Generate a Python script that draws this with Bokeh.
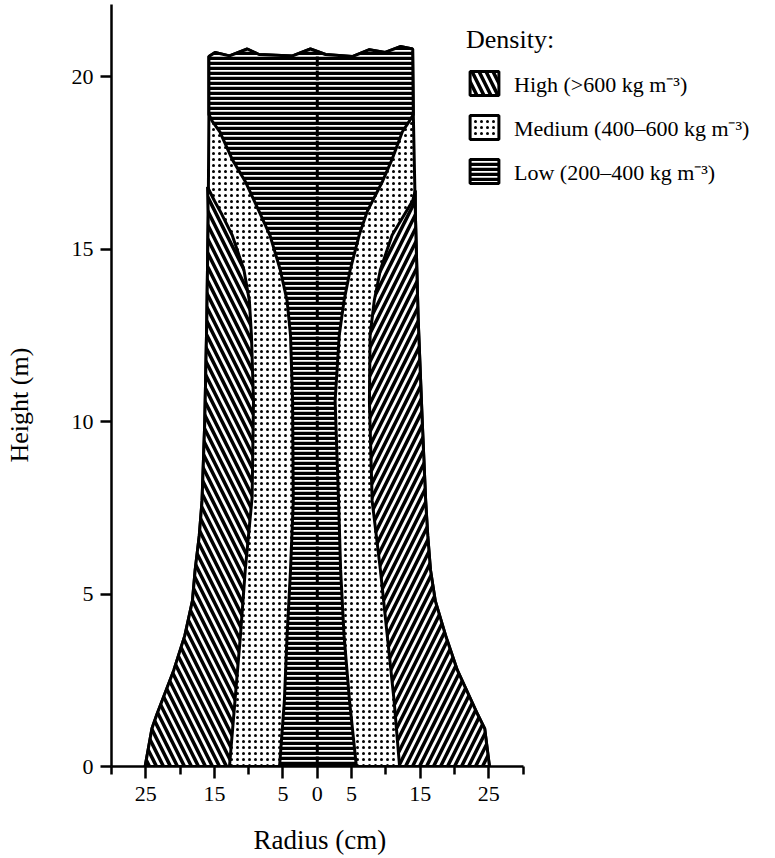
from bokeh.plotting import figure
from bokeh.models import Range1d, FixedTicker, Legend, LegendItem, Title
from bokeh.embed import file_html
from bokeh.resources import INLINE

# ---- data (height in m, radius in cm) ----
# outer stem surface, left and right sides
outer_h = [0, 1.1, 1.5, 2.8, 3.8, 4.8, 5.7, 6.7, 7.7, 10, 13, 16, 18.9]
outer_left = [-25.1, -24.1, -23.4, -20.9, -19.3, -18.2, -17.8, -17.2, -16.8, -16.4, -16.1, -15.9, -15.8]
outer_right = [25.1, 24.4, 23.4, 20.4, 18.7, 17.2, 16.5, 16.1, 15.8, 15.3, 14.7, 14.3, 14.0]

# ragged top of the stem
top_r = [-15.8, -14.9, -12.8, -10.2, -8.5, -3.6, -1.0, 1.2, 5.1, 7.6, 9.9, 12.1, 13.9]
top_h = [20.58, 20.7, 20.6, 20.8, 20.64, 20.6, 20.8, 20.64, 20.58, 20.78, 20.7, 20.87, 20.8]

# inner edge of high-density wood, left side
high_left_h = [0, 1.9, 3.8, 5.7, 7.8, 10.6, 12.5, 13.5, 14.4, 15.4, 16.0, 16.4, 16.8]
high_left_r = [-12.8, -12.0, -11.2, -10.5, -9.5, -9.3, -9.6, -9.9, -10.7, -12.4, -13.9, -15.0, -16.0]

# inner edge of high-density wood, right side
high_right_h = [0, 1.9, 3.8, 5.7, 7.7, 10.6, 12.5, 13.5, 14.4, 15.4, 16.4, 16.7]
high_right_r = [12.0, 11.2, 10.2, 9.2, 8.0, 7.6, 7.7, 8.3, 9.2, 10.9, 13.9, 14.3]

# boundary of low-density core
low_h = [0, 1.9, 3.8, 5.7, 7.7, 10.6, 12.5, 13.5, 14.4, 15.4, 16.1, 16.96, 17.6, 18.4, 18.7, 18.9]
low_left = [-5.5, -4.8, -4.4, -3.9, -3.5, -3.6, -3.9, -4.4, -5.4, -6.9, -8.5, -10.5, -12.4, -14.2, -15.3, -15.8]
low_right = [5.7, 4.7, 3.9, 3.4, 3.1, 2.6, 3.2, 3.9, 4.8, 6.1, 7.3, 9.5, 10.9, 12.4, 13.4, 14.0]

# pith line
pith_r = [0, 0]
pith_h = [0, 20.6]

x_ticks = [-25, -15, -5, 0, 5, 15, 25]
x_minor = [-30, -20, -10, 10, 20, 30]
x_tick_labels = {-25: "25", -15: "15", -5: "5"}
y_ticks = [0, 5, 10, 15, 20]

legend_labels = ["High (>600 kg m\u207b\u00b3)", "Medium (400\u2013600 kg m\u207b\u00b3)", "Low (200\u2013400 kg m\u207b\u00b3)"]

FONT = "Liberation Serif"

p = figure(width=775, height=858, x_range=Range1d(-30, 66.8), y_range=Range1d(0, 22.09),
           output_backend="svg", toolbar_location=None,
           min_border_left=110, min_border_right=0, min_border_top=4, min_border_bottom=92)
p.grid.visible = False
p.outline_line_color = None
p.background_fill_color = "white"

common = dict(line_color="black", line_width=3, fill_color="white", hatch_color="black")

# medium density: whole stem
med_x = outer_left + top_r + outer_right[::-1]
med_y = outer_h + top_h + outer_h[::-1]
r_med = p.patch(med_x, med_y, hatch_pattern="dot", hatch_scale=6, hatch_weight=2, **common)

# high density, left and right
hl_x = outer_left[:12] + high_left_r[::-1]
hl_y = outer_h[:12] + high_left_h[::-1]
r_high = p.patch(hl_x, hl_y, hatch_pattern="left_diagonal_line", hatch_scale=14, hatch_weight=3.5, **common)

hr_x = outer_right[:12] + high_right_r[::-1]
hr_y = outer_h[:12] + high_right_h[::-1]
p.patch(hr_x, hr_y, hatch_pattern="right_diagonal_line", hatch_scale=14, hatch_weight=3.5, **common)

# low density core
lo_x = low_left + top_r + low_right[::-1]
lo_y = low_h + top_h + low_h[::-1]
r_low = p.patch(lo_x, lo_y, hatch_pattern="horizontal_line", hatch_scale=5, hatch_weight=3.5, **common)

p.line(pith_r, pith_h, line_color="black", line_width=3, line_dash="10 4")

# axes
xa = p.xaxis[0]
xa.bounds = (-30, 30)
xa.ticker = FixedTicker(ticks=x_ticks, minor_ticks=x_minor)
xa.major_label_overrides = x_tick_labels
ya = p.yaxis[0]
ya.ticker = FixedTicker(ticks=y_ticks, minor_ticks=[])
for ax in (xa, ya):
    ax.axis_line_color = "black"
    ax.axis_line_width = 2.5
    ax.major_tick_line_color = "black"
    ax.major_tick_line_width = 2.5
    ax.minor_tick_line_color = "black"
    ax.minor_tick_line_width = 2.5
    ax.major_tick_in = 0
    ax.minor_tick_in = 0
    ax.major_label_text_font = FONT
    ax.major_label_text_font_size = "22px"
    ax.major_label_text_color = "black"
    ax.axis_label = " "          # blank spacer to push the title outward
    ax.axis_label_text_font_size = "10px"
xa.major_tick_out = 12
xa.minor_tick_out = 8
xa.major_label_standoff = 8
xa.axis_label_standoff = 3
ya.major_tick_out = 11
ya.major_label_standoff = 7
ya.axis_label_standoff = 19

p.add_layout(Title(text="Radius (cm)", align="left", offset=142, standoff=4,
                   text_font=FONT, text_font_size="27px", text_font_style="normal",
                   text_color="black"), "below")
p.add_layout(Title(text="Height (m)", align="left", offset=304, standoff=4,
                   text_font=FONT, text_font_size="26px", text_font_style="normal",
                   text_color="black"), "left")

legend = Legend(items=[LegendItem(label=legend_labels[0], renderers=[r_high]),
                       LegendItem(label=legend_labels[1], renderers=[r_med]),
                       LegendItem(label=legend_labels[2], renderers=[r_low])],
                location=(355, 580), title="Density:", padding=0, margin=0,
                border_line_color=None, background_fill_alpha=0,
                label_text_font=FONT, label_text_font_size="22px", label_text_color="black",
                title_text_font=FONT, title_text_font_size="26px", title_text_font_style="normal",
                title_text_color="black",
                glyph_width=36, glyph_height=30, label_standoff=12, spacing=14, title_standoff=13)
p.add_layout(legend)

open("out.html", "w").write(file_html(p, INLINE))
